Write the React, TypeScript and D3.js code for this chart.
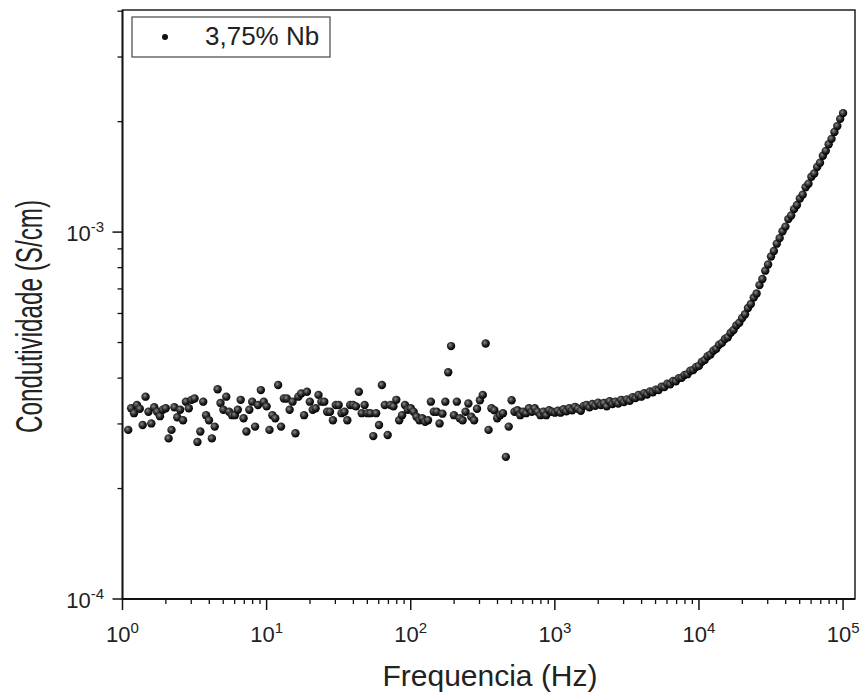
import React from 'react';
import * as d3 from 'd3';

// Frequency sweep (Hz)
const freqHz = [
  1.096, 1.148, 1.202, 1.259, 1.318, 1.38, 1.445, 1.514, 1.585, 1.66, 1.738, 1.82, 1.905, 1.995, 2.089, 2.188, 2.291, 2.399, 2.512, 2.63, 2.754, 2.884, 3.02, 3.162, 3.311, 3.467, 3.631, 3.802, 3.981, 4.169, 4.365, 4.571, 4.786, 5.012, 5.248, 5.495, 5.754, 6.026, 6.31, 6.607, 6.918, 7.244, 7.586, 7.943, 8.318, 8.71, 9.12, 9.55,
  10, 10.47, 10.96, 11.48, 12.02, 12.59, 13.18, 13.8, 14.45, 15.14, 15.85, 16.6, 17.38, 18.2, 19.05, 19.95, 20.89, 21.88, 22.91, 23.99, 25.12, 26.3, 27.54, 28.84, 30.2, 31.62, 33.11, 34.67, 36.31, 38.02, 39.81, 41.69, 43.65, 45.71, 47.86, 50.12, 52.48, 54.95, 57.54, 60.26, 63.1, 66.07, 69.18, 72.44, 75.86, 79.43, 83.18, 87.1, 91.2, 95.5,
  100, 104.7, 109.6, 114.8, 120.2, 125.9, 131.8, 138, 144.5, 151.4, 158.5, 166, 173.8, 182, 190.5, 199.5, 208.9, 218.8, 229.1, 239.9, 251.2, 263, 275.4, 288.4, 302, 316.2, 331.1, 346.7, 363.1, 380.2, 398.1, 416.9, 436.5, 457.1, 478.6, 501.2, 524.8, 549.5, 575.4, 602.6, 631, 660.7, 691.8, 724.4, 758.6, 794.3, 831.8, 871, 912, 955,
  1000, 1047, 1096, 1148, 1202, 1259, 1318, 1380, 1445, 1514, 1585, 1660, 1738, 1820, 1905, 1995, 2089, 2188, 2291, 2399, 2512, 2630, 2754, 2884, 3020, 3162, 3311, 3467, 3631, 3802, 3981, 4169, 4365, 4571, 4786, 5012, 5248, 5495, 5754, 6026, 6310, 6607, 6918, 7244, 7586, 7943, 8318, 8710, 9120, 9550,
  10000, 10470, 10960, 11480, 12020, 12590, 13180, 13800, 14450, 15140, 15850, 16600, 17380, 18200, 19050, 19950, 20890, 21880, 22910, 23990, 25120, 26300, 27540, 28840, 30200, 31620, 33110, 34670, 36310, 38020, 39810, 41690, 43650, 45710, 47860, 50120, 52480, 54950, 57540, 60260, 63100, 66070, 69180, 72440, 75860, 79430, 83180, 87100, 91200, 95500,
  100000,
];

// Conductivity in units of 1e-4 S/cm, one value per frequency
const sigmaE4 = [
  2.89, 3.31, 3.21, 3.38, 3.30, 2.98, 3.56, 3.24, 3.01, 3.33,
  3.24, 3.15, 3.28, 3.31, 2.74, 2.89, 3.33, 3.13, 3.28, 3.07,
  3.45, 3.31, 3.49, 3.52, 2.68, 2.86, 3.45, 3.17, 3.07, 2.74,
  2.95, 3.73, 3.42, 3.28, 3.56, 3.24, 3.17, 3.17, 3.28, 3.49,
  3.11, 2.86, 3.28, 3.45, 2.95, 3.38, 3.71, 3.45, 3.35, 2.89,
  3.17, 3.11, 3.83, 2.95, 3.52, 3.52, 3.28, 3.45, 2.83, 3.56,
  3.63, 3.17, 3.67, 3.45, 3.28, 3.31, 3.60, 3.45, 3.45, 3.24,
  3.24, 3.07, 3.38, 3.38, 3.21, 3.24, 3.07, 3.38, 3.38, 3.35,
  3.67, 3.21, 3.38, 3.21, 3.21, 2.78, 3.21, 2.98, 3.83, 3.38,
  2.80, 3.38, 3.35, 3.49, 3.07,
  3.17, 3.38, 3.28,
  3.31, 3.24, 3.14, 3.07, 3.11, 3.04, 3.07, 3.45, 3.24, 3.24, 3.01, 3.20, 3.45,
  4.15, 4.89,
  3.17, 3.45, 3.11, 3.07, 3.24, 3.41, 3.14, 3.07, 3.30, 3.48, 3.60,
  4.97,
  2.89, 3.31, 3.27, 3.11, 3.17, 3.21,
  2.44,
  2.95, 3.48, 3.24, 3.27, 3.17, 3.24, 3.21, 3.31, 3.24, 3.31, 3.24, 3.17, 3.24, 3.17, 3.27, 3.24, 3.22, 3.26,
  3.22, 3.29, 3.25, 3.31, 3.27, 3.34, 3.30, 3.26, 3.36, 3.38,
  3.33, 3.40, 3.36, 3.43, 3.38, 3.42, 3.35, 3.46, 3.40, 3.45,
  3.41, 3.49, 3.44, 3.50, 3.47, 3.55, 3.53, 3.60, 3.56, 3.64,
  3.61, 3.68, 3.66, 3.72, 3.71, 3.79, 3.78, 3.86, 3.85, 3.93,
  3.92, 4.00, 4.01, 4.08, 4.10, 4.19, 4.21, 4.29, 4.32, 4.43,
  4.48, 4.59, 4.64, 4.75, 4.81, 4.93, 4.99, 5.11, 5.17, 5.32,
  5.41, 5.57, 5.66, 5.83, 5.97, 6.21, 6.37, 6.63, 6.80, 7.17,
  7.45, 7.85, 8.16, 8.58, 8.88, 9.30, 9.63, 10.05, 10.35, 10.85,
  11.1, 11.55, 11.85, 12.35, 12.65, 13.25, 13.55, 14.15, 14.45, 15.05,
  15.45, 16.15, 16.65, 17.35, 17.95, 18.75, 19.45, 20.35, 21.1,
];

const xMajorExp = [0, 1, 2, 3, 4, 5];
const yMajorExp = [-4, -3];
const legendLabel = '3,75% Nb';
const xTitle = 'Frequencia (Hz)';
const yTitle = 'Condutividade (S/cm)';

const FONT = '"Liberation Sans", Arial, Helvetica, sans-serif';

export default function App() {
  const W = 865;
  const H = 695;
  const L = 122.5;
  const R = 855;
  const T = 10;
  const B = 599;

  const x = d3.scaleLog().domain([1, 1.21e5]).range([L, R]);
  const y = d3.scaleLog().domain([1e-4, 4.03e-3]).range([B, T]);

  const pts = freqHz.map((f, i) => ({ f, s: sigmaE4[i] * 1e-4 }));

  const isPow10 = (v: number) => Math.abs(Math.log10(v) - Math.round(Math.log10(v))) < 1e-6;
  const xMinor = x.ticks().filter((v) => !isPow10(v) && v <= 1.21e5);
  const yMinor = y.ticks().filter((v) => !isPow10(v) && v <= 4.03e-3);

  return (
    <svg width={W} height={H} style={{ position: 'absolute', left: 0, top: 0, background: '#fff' }} fontFamily={FONT}>
      <defs>
        <radialGradient id="ball" cx="40%" cy="38%" r="60%">
          <stop offset="0%" stopColor="#8a8a8a" />
          <stop offset="55%" stopColor="#2a2a2a" />
          <stop offset="100%" stopColor="#000" />
        </radialGradient>
      </defs>
      <rect x={0} y={0} width={W} height={H} fill="#fff" />

      {/* data */}
      <g>
        {pts.map((p, i) => (
          <circle key={i} cx={x(p.f)} cy={y(p.s)} r={4.2} fill="url(#ball)" />
        ))}
      </g>

      {/* frame */}
      <rect x={L} y={T} width={R - L} height={B - T} fill="none" stroke="#111" strokeWidth={1.4} />
      <line x1={L} x2={R} y1={B} y2={B} stroke="#111" strokeWidth={1.8} />
      <line x1={L} x2={L} y1={T} y2={B} stroke="#111" strokeWidth={1.8} />

      {/* x ticks */}
      {xMajorExp.map((e) => (
        <line key={'xM' + e} x1={x(Math.pow(10, e))} x2={x(Math.pow(10, e))} y1={B} y2={B + 11} stroke="#111" strokeWidth={1.5} />
      ))}
      {xMinor.map((v, i) => (
        <line key={'xm' + i} x1={x(v)} x2={x(v)} y1={B} y2={B + 5} stroke="#111" strokeWidth={1.3} />
      ))}
      {xMajorExp.map((e) => (
        <text key={'xl' + e} x={x(Math.pow(10, e))} y={642} textAnchor="middle" fontSize={22} fill="#222">
          10<tspan dy={-9} fontSize={15}>{e}</tspan>
        </text>
      ))}

      {/* y ticks */}
      {yMajorExp.map((e) => (
        <line key={'yM' + e} x1={L - 10} x2={L} y1={y(Math.pow(10, e))} y2={y(Math.pow(10, e))} stroke="#111" strokeWidth={1.5} />
      ))}
      {yMinor.map((v, i) => (
        <line key={'ym' + i} x1={L - 5} x2={L} y1={y(v)} y2={y(v)} stroke="#111" strokeWidth={1.3} />
      ))}
      {yMajorExp.map((e) => (
        <text key={'yl' + e} x={104} y={y(Math.pow(10, e)) + 9} textAnchor="end" fontSize={22} fill="#222">
          10<tspan dy={-9} fontSize={15}>{String(e)}</tspan>
        </text>
      ))}

      {/* titles */}
      <text x={490} y={686} textAnchor="middle" fontSize={30} fill="#222">{xTitle}</text>
      <text
        transform={`translate(42, 316.5) rotate(-90)`}
        textAnchor="middle"
        fontSize={37}
        textLength={233}
        lengthAdjust="spacingAndGlyphs"
        fill="#222"
      >
        {yTitle}
      </text>

      {/* legend */}
      <rect x={132} y={17} width={198} height={40} fill="#fff" stroke="#555" strokeWidth={1.3} />
      <circle cx={165} cy={37} r={3} fill="#111" />
      <text x={205} y={45} fontSize={26} fill="#222">{legendLabel}</text>
    </svg>
  );
}
